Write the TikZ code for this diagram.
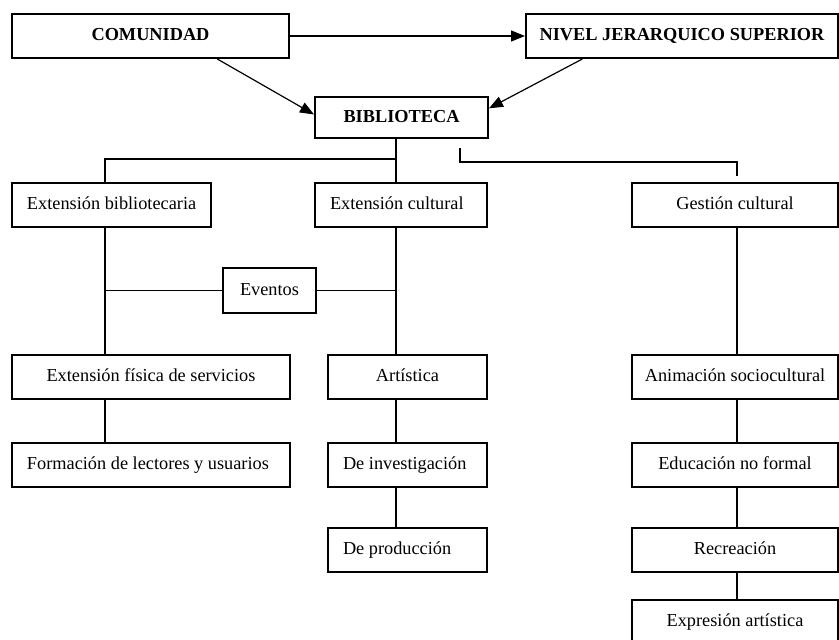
\documentclass[tikz,border=0pt]{standalone}
\usepackage{fontspec}
\setmainfont{Liberation Serif}
\usetikzlibrary{arrows.meta,positioning}
\tikzset{
  box/.style={draw,line width=2pt,minimum width=#1,minimum height=44pt,inner xsep=0pt,
    text height=13pt,text depth=4pt,font=\fontsize{18.3}{22}\selectfont},
  box/.default=100pt,
  lbox/.style={box=0pt,text width=#1,align=flush left,inner xsep=15pt},
  topbox/.style={box=#1,font=\bfseries\fontsize{18.3}{22}\selectfont},
  link/.style={line width=1.2pt},
  arr/.style={link,-{Triangle[length=14pt,width=11pt]}}
}

\begin{document}
\begin{tikzpicture}[x=1pt,y=-1pt]
    \useasboundingbox (0,0) rectangle (839,640);
    % Top level
    \node[topbox=277pt] (com) at (150.5,36) {COMUNIDAD};
    \node[topbox=312pt] (niv) at (682,36) {NIVEL JERARQUICO SUPERIOR};
    \node[topbox=173pt,minimum height=41pt] (bib) at (401.5,117.5) {BIBLIOTECA};
    % Branches
    \node[lbox=169pt] (extb) at (111.5,205) {\mbox{Extensión bibliotecaria}};
    \node[lbox=142pt] (extc) at (401,205) {\mbox{Extensión cultural}};
    \node[box=206pt] (gest) at (735,205) {Gestión cultural};
    \node[box=93pt,minimum height=45pt] (evt) at (269.5,290.5) {Eventos};
    % Left column
    \node[box=278pt] (fis) at (151,377) {Extensión física de servicios};
    \node[lbox=248pt] (form) at (151,464.5) {\mbox{Formación de lectores y usuarios}};
    % Middle column
    \node[box=159pt] (art) at (407.5,377) {Artística};
    \node[lbox=129pt] (inv) at (407.5,464.5) {\mbox{De investigación}};
    \node[lbox=129pt] (prod) at (407.5,549.5) {\mbox{De producción}};
    % Right column
    \node[box=206pt] (anim) at (735,377) {Animación sociocultural};
    \node[box=206pt] (edu) at (735,464.5) {Educación no formal};
    \node[box=206pt] (rec) at (735,549.5) {Recreación};
    \node[box=206pt] (expr) at (735,622) {Expresión artística};
    % Junctions
    \coordinate (jl) at (105,159);
    \coordinate (jm) at (396,159);
    \coordinate (gs) at (460,148);
    \coordinate (jr) at (460,162);
    \coordinate (jg) at (737,162);
    \coordinate (ge) at (737,176);
    % Arrows
    \draw[arr] (com) -- (niv);
    \draw[arr] (com.-19.4) -- (bib.178);
    \draw[arr] (niv.193.4) -- (bib.6);
    % Tree lines
    \draw[link] (jm |- bib.south) -- (jm |- extc.north);
    \draw[link] (jm) -- (jl) -- (jl |- extb.north);
    \draw[link] (gs) -- (jr) -- (jg) -- (ge);
    \draw[link] (jl |- extb.south) -- (jl |- fis.north);
    \draw[link] (jm |- extc.south) -- (jm |- art.north);
    \draw[link] (evt.west) -- (jl |- evt.west);
    \draw[link] (evt.east) -- (jm |- evt.east);
    \draw[link] (jl |- fis.south) -- (jl |- form.north);
    \foreach \a/\b in {art/inv,inv/prod}
        \draw[link] (jm |- \a.south) -- (jm |- \b.north);
    \foreach \a/\b in {gest/anim,anim/edu,edu/rec,rec/expr}
        \draw[link] (jg |- \a.south) -- (jg |- \b.north);
\end{tikzpicture}
\end{document}
